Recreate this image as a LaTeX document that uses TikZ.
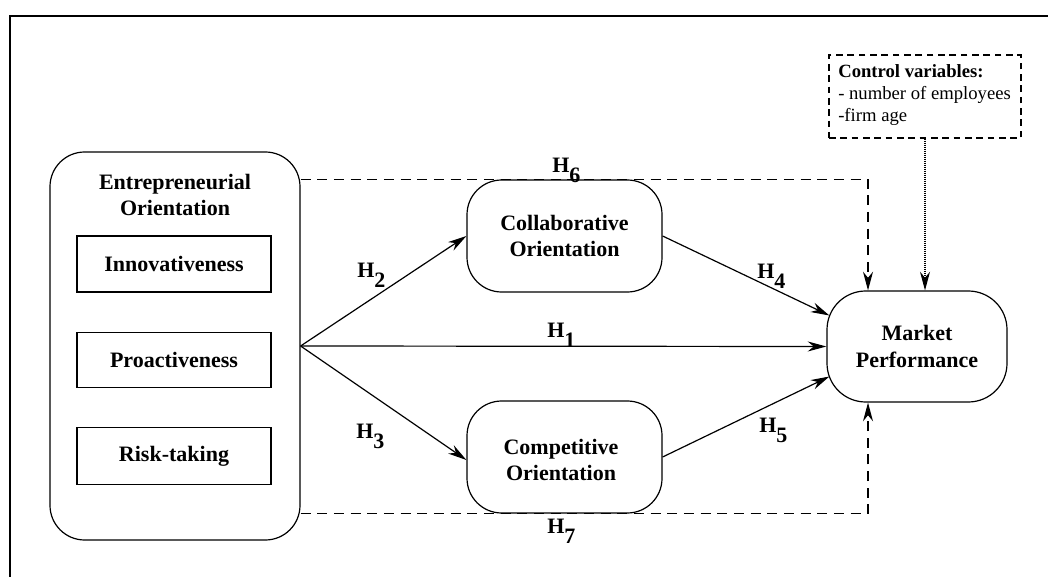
\documentclass[tikz,border=0pt]{standalone}
\usepackage{fontspec}
\setmainfont{Liberation Serif}
\usetikzlibrary{arrows.meta,calc}
\newcommand{\hyp}[1]{\textbf{H\raisebox{-7.5pt}{#1}}}
\begin{document}
\begin{tikzpicture}[x=0.75pt,y=-0.75pt,
  box/.style={draw,line width=0.9pt,inner sep=0pt,align=center,
    font=\fontsize{16.5}{20}\selectfont\bfseries},
  rbox/.style={box,rounded corners=26pt},
  txt/.style={inner sep=0pt,align=center,font=\fontsize{16.5}{20}\selectfont\bfseries},
  conn/.style={line width=0.9pt,-{Stealth[length=14pt,width=7.5pt,inset=4.5pt]}},
  dconn/.style={conn,dash pattern=on 7.5pt off 5pt},
  hlab/.style={anchor=base west,inner sep=0pt,font=\fontsize{16.5}{20}\selectfont}
]
\useasboundingbox (0,0) rectangle (1048,577);
% frame
\draw[line width=2.2pt] (10,577) coordinate (fb) -- (10,16) coordinate (fc) -- (1048,16) coordinate (fr);

% EO block
\node[rbox,minimum width={250*0.75pt},minimum height={388*0.75pt}] (eo) at (175,346) {};
\node[txt] (eot) at (175,195) {Entrepreneurial\\Orientation};
\node[box,minimum width={194*0.75pt},minimum height={56*0.75pt}] (inn) at (174,264) {Innovativeness};
\node[box,minimum width={194*0.75pt},minimum height={55*0.75pt}] (pro) at (174,360) {Proactiveness};
\node[box,minimum width={194*0.75pt},minimum height={57*0.75pt}] (risk) at (174,456) {Risk-taking};

% mediators
\node[rbox,minimum width={195*0.75pt},minimum height={112*0.75pt}] (col) at (564.5,236) {Collaborative\\Orientation};
\node[rbox,minimum width={195*0.75pt},minimum height={112*0.75pt}] (com) at (564.5,457) {};
\node[txt] (comt) at (561,460) {Competitive\\Orientation};

% outcome
\node[rbox,rounded corners=29pt,minimum width={180*0.75pt},minimum height={111*0.75pt}] (mp) at (917,346.5) {Market\\Performance};

% control box
\node[draw,line width=0.9pt,dash pattern=on 5pt off 3.5pt,inner sep=0pt,
  minimum width={192*0.75pt},minimum height={83*0.75pt}] (ctrl) at (925,96.5) {};
\node[anchor=north west,inner sep=0pt,align=left,font=\fontsize{14}{16.5}\selectfont] (ctrlt) at (838,64)
  {\textbf{Control variables:}\\- number of employees\\-firm age};

% connectors
\draw[conn] (eo.east) -- (col.west);
\draw[conn] (eo.east) -- (mp.west);
\draw[conn] (eo.east) -- ($(com.west)+(0,3)$);
\draw[conn] (col.east) -- ($(mp.west)+(3,-31)$);
\draw[conn] (com.east) -- ($(mp.west)+(3,30)$);
\draw[dconn] ($(eo.north east)+(0,28)$) -| ($(mp.north)+(-49,0)$);
\draw[dconn] ($(eo.south east)+(0,-27)$) -| ($(mp.south)+(-49,0)$);
\draw[line width=0.9pt,dash pattern=on 0.8pt off 0.7pt,-{Stealth[length=14pt,width=7.5pt,inset=4.5pt]}]
  (ctrl.south) -- (ctrl.south |- mp.north);

% labels
\node[hlab] (h1) at (547,337) {\hyp{1}};
\node[hlab] (h2) at (357,277) {\hyp{2}};
\node[hlab] (h3) at (356,438) {\hyp{3}};
\node[hlab] (h4) at (757,278) {\hyp{4}};
\node[hlab] (h5) at (759,432) {\hyp{5}};
\node[hlab] (h6) at (552,173) {\hyp{6}};
\node[hlab] (h7) at (547,533) {\hyp{7}};
\end{tikzpicture}
\end{document}
